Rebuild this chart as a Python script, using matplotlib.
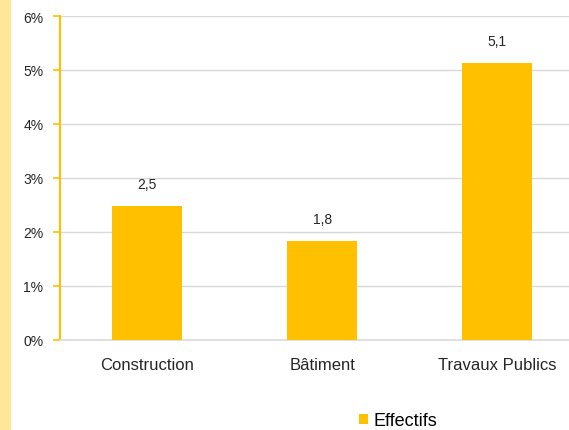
import matplotlib.pyplot as plt
from matplotlib.patches import Rectangle

categories = ['Construction', 'Bâtiment', 'Travaux Publics']
effectifs = [2.48, 1.83, 5.13]
labels = ['2,5', '1,8', '5,1']
yticks = [0, 1, 2, 3, 4, 5, 6]

plt.rcParams['font.family'] = ['Liberation Sans', 'DejaVu Sans']

W, H = 569, 431
fig = plt.figure(figsize=(W / 100, H / 100), dpi=100)
fig.patches.append(Rectangle((0, 0), 10 / W, 1, transform=fig.transFigure,
                             color='#FFE699', zorder=0))

ax = fig.add_axes([60 / W, 1 - 341 / H, 524.5 / W, 324 / H])
x = range(len(categories))
bars = ax.bar(x, effectifs, width=0.4, color='#FFC000', zorder=3, label='Effectifs')
for xi, v, lab in zip(x, effectifs, labels):
    ax.annotate(lab, (xi, v), xytext=(0, 16), textcoords='offset points',
                ha='center', va='center', fontsize=10, color='#262626')

ax.set_xlim(-0.5, 2.5)
ax.set_ylim(0, 6)
ax.set_yticks(yticks)
ax.set_yticklabels([f'{t}%' for t in yticks], fontsize=10, color='#262626')
ax.set_xticks(list(x))
ax.set_xticklabels(categories, fontsize=12, color='#262626')
ax.tick_params(axis='x', length=0, pad=12)
ax.tick_params(axis='y', length=5, width=1.2, color='#FFC000', pad=7)
ax.yaxis.grid(True, color='#D9D9D9', lw=1, zorder=0)
for s in ['top', 'right']:
    ax.spines[s].set_visible(False)
ax.spines['left'].set_color('#FFC000')
ax.spines['left'].set_linewidth(1.5)
ax.spines['bottom'].set_color('#D9D9D9')
ax.spines['bottom'].set_linewidth(1.2)

fig.legend(handles=[bars], labels=['Effectifs'], loc='center',
           bbox_to_anchor=(398 / W, 1 - 422 / H), frameon=False, fontsize=13,
           handlelength=0.5, handleheight=0.5, handletextpad=0.3)

fig.savefig('out.png', dpi=100)
